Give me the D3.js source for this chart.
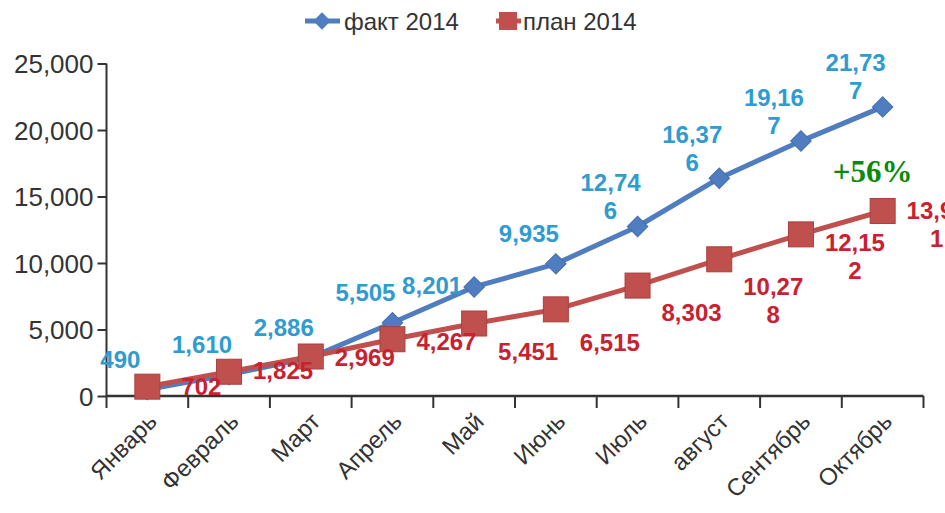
<!DOCTYPE html>
<html><head><meta charset="utf-8">
<script src="https://cdn.jsdelivr.net/npm/d3@7"></script>
<style>body{margin:0;background:#fff}svg{display:block}</style>
</head><body>
<svg id="c" width="945" height="513"></svg>
<script>
const months = ["Январь","Февраль","Март","Апрель","Май","Июнь","Июль","август","Сентябрь","Октябрь"];
const fact2014 = [490,1610,2886,5505,8201,9935,12746,16376,19167,21737];
const plan2014 = [702,1825,2969,4267,5451,6515,8303,10278,12152,13911];
const yTicks = [0,5000,10000,15000,20000,25000];
const seriesNames = ["факт 2014","план 2014"];
const growthLabel = "+56%";

// label layout tweaks (not data)
const factLabelShift = {4:[-15,29]};
const planLabelDy = [0,-1,1,2,28,33,27,41,22,14];

const svg = d3.select("#c");
const x = d3.scaleBand().domain(months).range([106.5,923.5]);
const y = d3.scaleLinear().domain([0,25000]).range([396,63.5]);
const cx = d => x(d) + x.bandwidth()/2;
const fmt = d3.format(",");
const sans = "Liberation Sans, Arial, sans-serif";

const axisColor = "#333";
// y axis
const ya = svg.append("g").attr("transform","translate(106.5,0)")
  .call(d3.axisLeft(y).tickValues(yTicks).tickSize(9).tickPadding(4).tickFormat(fmt));
ya.select(".domain").attr("stroke",axisColor).attr("stroke-width",2).attr("d","M0,63.5V396");
ya.selectAll(".tick line").attr("stroke",axisColor).attr("stroke-width",2);
ya.selectAll(".tick text").attr("fill","#333").style("font-family",sans).style("font-size","26px").attr("dy","0.36em");

// x axis
const xa = svg.append("g").attr("transform","translate(0,396)")
  .call(d3.axisBottom(x).tickSize(0).tickFormat(""));
xa.select(".domain").attr("stroke",axisColor).attr("stroke-width",2.5).attr("d","M106.5,0H923.5");
const xt = [...months.map(m=>x(m)), 923.5];
svg.append("g").selectAll("line").data(xt).join("line")
  .attr("x1",d=>d).attr("x2",d=>d).attr("y1",396).attr("y2",408)
  .attr("stroke",axisColor).attr("stroke-width",2);
svg.append("g").selectAll("text").data(months).join("text")
  .attr("transform",d=>`translate(${cx(d)+11},423) rotate(-45)`)
  .attr("text-anchor","end")
  .style("font-family",sans).style("font-size","24px")
  .attr("fill","#333").text(d=>d);

const factColor = "#4F7DBF", planColor = "#C0504D";
const line = d3.line().x((d,i)=>cx(months[i])).y(d=>y(d));

// fact series
svg.append("path").datum(fact2014).attr("d",line).attr("fill","none")
  .attr("stroke",factColor).attr("stroke-width",5).attr("stroke-linejoin","round");
svg.append("g").selectAll("path").data(fact2014).join("path")
  .attr("d",d3.symbol().type(d3.symbolSquare).size(210))
  .attr("transform",(d,i)=>`translate(${cx(months[i])},${y(d)}) rotate(45)`)
  .attr("fill",factColor).attr("stroke","#456fae").attr("stroke-width",1);

// plan series
svg.append("path").datum(plan2014).attr("d",line).attr("fill","none")
  .attr("stroke",planColor).attr("stroke-width",5).attr("stroke-linejoin","round");
svg.append("g").selectAll("rect").data(plan2014).join("rect")
  .attr("x",(d,i)=>cx(months[i])-12.5).attr("y",d=>y(d)-12.5)
  .attr("width",25).attr("height",25)
  .attr("fill",planColor).attr("stroke","#a8403d").attr("stroke-width",1);

// data labels
function wrap(v){const s=fmt(v);return s.length>5?[s.slice(0,5),s.slice(5)]:[s];}
const lh = 28;
function addLabel(g, lines, cxp, cyp, color){
  const n = lines.length;
  const t = g.append("text").attr("text-anchor","middle")
    .style("font-family",sans).style("font-size","24px")
    .style("font-weight","bold").attr("fill",color);
  lines.forEach((l,k)=>{
    t.append("tspan").attr("x",cxp).attr("y",cyp + (k-(n-1)/2)*lh + 8.5).text(l);
  });
}
const lg = svg.append("g");
fact2014.forEach((v,i)=>{
  const s = factLabelShift[i]||[0,0];
  addLabel(lg, wrap(v), cx(months[i])-27+s[0], y(v)-30+s[1], "#2F9BD1");
});
plan2014.forEach((v,i)=>{
  addLabel(lg, wrap(v), cx(months[i])+54, y(v)+planLabelDy[i], "#C9212F");
});

// growth annotation
svg.append("text").attr("x",cx(months[9])-10).attr("y",182).attr("text-anchor","middle")
  .style("font-family","Liberation Serif, Times New Roman, serif").style("font-size","31px")
  .style("font-weight","bold").attr("fill","#0A8A0A").text(growthLabel);

// legend
const leg = svg.append("g");
leg.append("line").attr("x1",305).attr("x2",340).attr("y1",21).attr("y2",21).attr("stroke",factColor).attr("stroke-width",5);
leg.append("path").attr("d",d3.symbol().type(d3.symbolSquare).size(150)).attr("transform","translate(322,21) rotate(45)").attr("fill",factColor);
leg.append("text").attr("x",344).attr("y",30).style("font-family",sans).style("font-size","24px").attr("fill","#333").text(seriesNames[0]);
leg.append("line").attr("x1",496).attr("x2",521).attr("y1",21).attr("y2",21).attr("stroke",planColor).attr("stroke-width",5);
leg.append("rect").attr("x",499).attr("y",12).attr("width",18).attr("height",18).attr("fill",planColor);
leg.append("text").attr("x",523).attr("y",30).style("font-family",sans).style("font-size","24px").attr("fill","#333").text(seriesNames[1]);
</script>
</body></html>
